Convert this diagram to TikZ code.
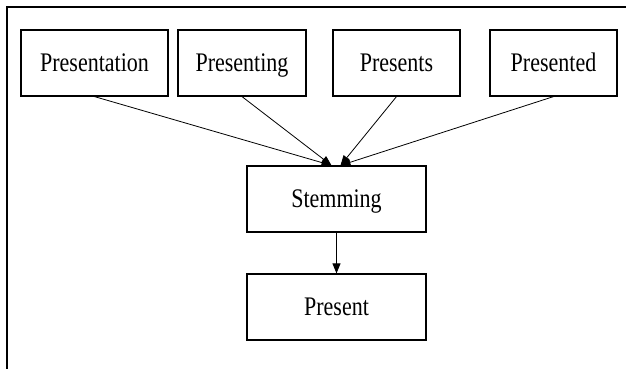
\documentclass[tikz,border=0pt]{standalone}
\usepackage{fontspec}
\setmainfont{Liberation Serif}
\usepackage{graphicx}
\usetikzlibrary{arrows.meta}
\tikzset{>/.tip={Triangle[length=10pt,width=8pt]},
  wbox/.style={draw, line width=1.2pt, minimum height=66pt, inner sep=0pt,
    text height=24pt, text depth=6pt,
    font=\fontsize{22}{26}\selectfont}}
\newcommand{\tall}[1]{\scalebox{1}[1.22]{#1}}

\begin{document}
\begin{tikzpicture}[x=1pt, y=1pt]
\useasboundingbox (0,0) rectangle (626,369);
\draw[line width=1.3pt] (7,0) -- (7,362) -- (626,362);

\node[wbox, minimum width=147pt] (pn) at (94.5,306) {\tall{Presentation}};
\node[wbox, minimum width=128pt] (pg) at (242,306)  {\tall{Presenting}};
\node[wbox, minimum width=127pt] (ps) at (396.5,306) {\tall{Presents}};
\node[wbox, minimum width=127pt] (pd) at (553.5,306) {\tall{Presented}};
\node[wbox, minimum width=179pt] (st) at (336.5,170) {\tall{Stemming}};
\node[wbox, minimum width=179pt] (pr) at (336.5,62)  {\tall{Present}};

\draw[->, line width=0.8pt] (pn.south) to ([xshift=-5pt]st.north);
\draw[->, line width=0.8pt] (pg.south) to ([xshift=-5pt]st.north);
\draw[->, line width=0.8pt] (ps.south) to ([xshift=4pt]st.north);
\draw[->, line width=0.8pt] (pd.south) to ([xshift=4pt]st.north);
\draw[->, line width=0.8pt] (st) to (pr);
\end{tikzpicture}
\end{document}
